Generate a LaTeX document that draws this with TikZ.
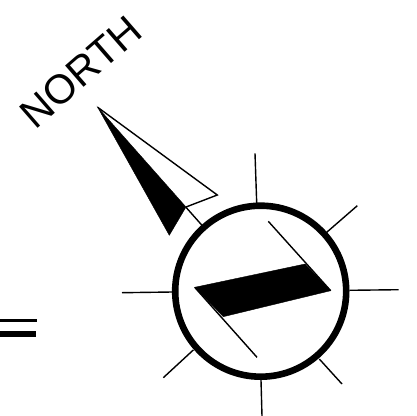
\documentclass[tikz,border=0pt]{standalone}
\usepackage{fontspec}
\setmainfont{Liberation Sans}
\tikzset{
  tick/.style={draw=black,line width=1.4pt},
  solid shape/.style={fill=black,draw=black,line width=0.4pt,line join=miter},
  thin edge/.style={draw=black,line width=1.4pt,line join=miter}
}
\begin{document}
\begin{tikzpicture}[x=1pt,y=-1pt]
\useasboundingbox (0,0) rectangle (416,416);
% equals sign
\fill[black] (0,319.2) rectangle (36.5,321.8);
\fill[black] (0,330.7) rectangle (35.5,337.4);
% ring
\draw[black,line width=6.6pt] (260.7,291.2) circle[radius=85.5];
% ticks
\draw[tick] (255,153.3) -- (256.7,203);
\draw[tick] (357.3,205.7) -- (326.7,232.3);
\draw[tick] (398.7,289.7) -- (349.3,290.3);
\draw[tick] (342,384) -- (319.3,359);
\draw[tick] (262,416) -- (261,380);
\draw[tick] (163.3,377.7) -- (193.3,350);
\draw[tick] (122,292.7) -- (172,292);
\draw[tick] (201.7,225) -- (186,207.3);
% inner arrow
\path[solid shape] (194.7,287.3) -- (305,264) -- (330.7,290.7) -- (223.3,316.7) -- cycle;
\draw[tick] (268.3,221.3) -- (330.7,290.7);
\draw[tick] (194.7,287.3) -- (257,357.3);
% north arrow
\path[solid shape] (97.7,107.3) -- (186,207) -- (169.3,235.3) -- cycle;
\draw[thin edge] (97.7,107.3) -- (217.3,195) -- (186,207);
% label
\node[rotate=41,inner sep=0pt,font=\fontsize{41}{41}\selectfont] (north) at (81,72) {NORTH};
\end{tikzpicture}
\end{document}
